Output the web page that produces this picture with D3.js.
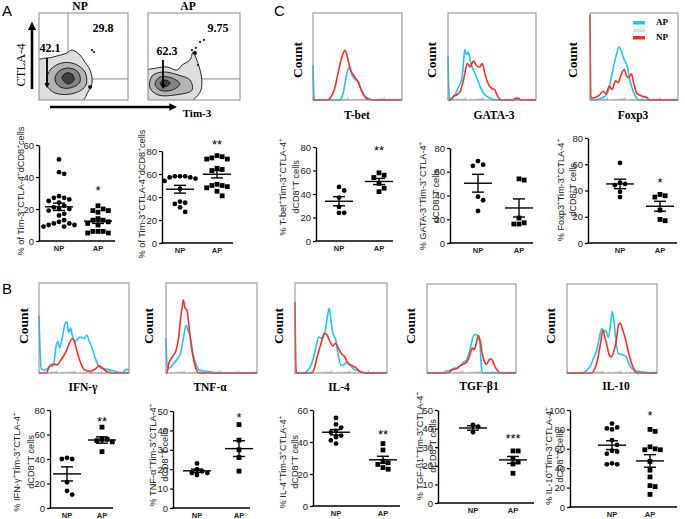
<!DOCTYPE html>
<html>
<head>
<meta charset="utf-8">
<script src="https://cdnjs.cloudflare.com/ajax/libs/d3/7.8.5/d3.min.js"></script>
<style>
  body { margin: 0; background: #fff; }
  svg { display: block; }
</style>
</head>
<body>
<svg id="fig" width="685" height="519"></svg>
<script>
// ---- data ----
const groups = ["NP", "AP"];

// % of Tim-3+CTLA-4+ dCD8+ cells (panel A, two cohorts)
const tim3NP  = [51, 43, 42, 28, 27, 27, 26, 25, 24, 22, 21, 20, 20, 19, 17, 16, 13, 12, 11, 11, 10, 10, 9, 9];
const tim3AP  = [22, 20, 19, 19, 18, 14, 13, 13, 12, 11, 10, 6, 6, 6, 5, 5];
const tim3bNP = [58, 58, 58, 57, 57, 56, 54, 47, 36, 35, 34, 31, 27];
const tim3bAP = [76, 75, 74, 73, 73, 65, 64, 63, 51, 50, 50, 49, 48, 45, 41];

// transcription factors (panel C)
const tbetNP  = [46, 43, 37, 29, 24, 24];
const tbetAP  = [58, 56, 54, 49, 45, 42];
const gataNP  = [69, 66, 65, 39, 36, 27];
const gataAP  = [54, 53, 21, 17, 16, 16];
const foxp3NP = [61, 46, 45, 44, 39, 35];
const foxp3AP = [37, 36, 35, 25, 18, 17];

// cytokines (panel B)
const ifngNP = [41, 40, 40, 21, 14, 11];
const ifngAP = [66, 56, 56, 55, 54, 46];
const tnfaNP = [23, 20, 19, 18, 18, 17];
const tnfaAP = [43, 35, 30, 26, 19];
const il4NP  = [55, 51, 49, 47, 46, 44, 43, 41, 39];
const il4AP  = [39, 35, 28, 27, 26, 24, 23];
const tgfNP  = [42, 41, 38];
const tgfAP  = [28, 28, 24, 22, 21, 16];
const il10NP = [86, 82, 81, 80, 69, 64, 58, 57, 55, 45, 44, 44];
const il10AP = [80, 78, 62, 60, 59, 59, 47, 38, 31, 22, 21, 13];

// histograms: [log decade, % of max count]
const tbetHistAP = [[0,40],[0.05,5],[0.1,0],[1.5,0],[1.7,8],[1.85,25],[1.95,35],[2.05,37],[2.2,28],[2.35,24],[2.55,21],[2.7,12],[2.9,5],[3.2,1],[3.4,0],[5,0]];
const tbetHistNP = [[0,0],[0.8,0],[1.0,3],[1.2,12],[1.4,30],[1.6,48],[1.8,57],[1.95,48],[2.1,35],[2.3,28],[2.5,22],[2.7,12],[2.9,4],[3.1,1],[3.3,0],[5,0]];
const gataHistAP = [[0,50],[0.05,10],[0.12,0],[0.2,2],[0.45,8],[0.6,15],[0.75,22],[0.85,35],[0.95,58],[1.05,52],[1.15,55],[1.3,42],[1.5,32],[1.7,22],[1.9,12],[2.1,6],[2.4,2],[2.7,0],[5,0]];
const gataHistNP = [[0,0],[0.15,0],[0.3,4],[0.5,6],[0.7,10],[0.9,25],[1.1,42],[1.25,38],[1.45,45],[1.6,40],[1.8,38],[1.95,42],[2.1,30],[2.3,18],[2.5,13],[2.65,12],[2.8,5],[3.0,0],[3.7,0],[3.85,2],[4.0,2],[4.15,0],[5,0]];
const foxp3HistAP = [[0,0],[0.3,0],[0.6,2],[0.9,5],[1.1,15],[1.3,35],[1.5,52],[1.65,61],[1.8,55],[1.95,46],[2.1,40],[2.25,25],[2.45,10],[2.6,4],[2.75,0],[5,0]];
const foxp3HistNP = [[0,98],[0.04,5],[0.1,2],[0.5,5],[0.75,10],[0.9,7],[1.1,16],[1.25,12],[1.45,22],[1.6,20],[1.75,28],[1.95,35],[2.1,27],[2.2,26],[2.35,30],[2.5,18],[2.65,8],[2.8,6],[3.0,4],[3.2,3],[3.4,0],[5,0]];
const ifngHistAP = [[0,64],[0.05,30],[0.12,5],[0.3,3],[0.6,7],[0.8,8],[0.95,30],[1.05,35],[1.15,28],[1.3,40],[1.45,55],[1.55,57],[1.65,45],[1.75,50],[1.85,42],[2.0,35],[2.15,38],[2.3,40],[2.5,38],[2.65,42],[2.8,35],[2.95,28],[3.1,18],[3.3,8],[3.5,5],[3.8,4],[4.2,2],[4.6,0],[4.85,4],[5,3]];
const ifngHistNP = [[0,0],[0.4,0],[0.6,8],[0.8,10],[1.0,9],[1.2,14],[1.4,20],[1.55,26],[1.7,34],[1.85,38],[1.95,36],[2.1,25],[2.3,12],[2.5,4],[2.8,2],[3.1,4],[3.35,8],[3.55,5],[3.8,1],[4.1,0],[5,0]];
const tnfaHistAP = [[0,39],[0.06,8],[0.15,5],[0.4,10],[0.6,15],[0.8,22],[0.95,38],[1.1,53],[1.2,48],[1.35,38],[1.5,20],[1.65,10],[1.85,3],[2.2,2],[2.5,1],[2.8,0],[5,0]];
const tnfaHistNP = [[0,0],[0.05,0],[0.15,10],[0.35,18],[0.55,25],[0.7,40],[0.8,60],[0.9,75],[0.95,81],[1.05,72],[1.15,70],[1.3,45],[1.45,22],[1.6,8],[1.8,0],[5,0]];
const il4HistAP = [[0,0],[0.5,0],[0.7,3],[0.9,10],[1.1,25],[1.3,40],[1.5,38],[1.65,48],[1.78,65],[1.86,72],[1.95,60],[2.05,45],[2.2,38],[2.35,20],[2.5,8],[2.65,9],[2.85,12],[3.0,9],[3.2,4],[3.5,2],[3.9,0],[5,0]];
const il4HistNP = [[0,79],[0.05,5],[0.1,0],[0.9,0],[1.05,5],[1.2,18],[1.4,32],[1.6,44],[1.75,42],[1.9,35],[2.05,30],[2.2,33],[2.35,28],[2.5,22],[2.7,18],[2.9,10],[3.1,8],[3.3,6],[3.5,2],[3.8,0],[5,0]];
const tgfHistAP = [[0,0],[1.0,0],[1.1,2],[1.3,3],[1.48,5],[1.7,6],[1.85,8],[2.05,12],[2.23,15],[2.4,25],[2.55,38],[2.65,43],[2.78,43],[2.88,40],[2.98,32],[3.05,8],[3.15,0],[5,0]];
const tgfHistNP = [[0,0],[1.2,0],[1.3,2],[1.5,4],[1.7,5],[1.85,8],[2.05,10],[2.23,12],[2.4,20],[2.55,28],[2.65,26],[2.75,32],[2.88,42],[3.0,35],[3.1,22],[3.25,12],[3.35,10],[3.5,15],[3.6,16],[3.72,12],[3.85,6],[4.0,2],[4.1,0],[5,0]];
const il10HistAP = [[0,0],[0.9,0],[1.1,3],[1.3,8],[1.5,18],[1.65,25],[1.8,40],[1.93,50],[2.05,46],[2.15,48],[2.3,40],[2.42,55],[2.52,69],[2.6,60],[2.7,40],[2.85,22],[3.0,21],[3.15,20],[3.3,18],[3.45,10],[3.6,5],[3.9,2],[4.3,1],[4.6,0],[5,0]];
const il10HistNP = [[0,0],[1.35,0],[1.55,5],[1.7,15],[1.85,32],[2.0,48],[2.1,40],[2.2,33],[2.35,20],[2.45,18],[2.6,24],[2.75,38],[2.85,53],[2.95,56],[3.1,48],[3.25,38],[3.4,25],[3.6,10],[3.75,3],[3.9,0],[5,0]];

// flow contour rings, [Tim-3 decade, CTLA-4 decade], outer to inner
const npRings = [
  [[-0.2,-0.2],[-0.2,2.18],[0.79,2.47],[1.57,2.70],[1.85,2.87],[2.30,2.59],[2.58,2.18],[2.87,1.72],[2.98,0.98],[2.75,0.46],[2.30,-0.2]],
  [[0.45,0.86],[0.62,1.72],[1.29,2.13],[2.02,2.07],[2.58,1.61],[2.64,0.86],[2.02,0.40],[0.9,0.40]],
  [[0.9,1.15],[1.07,1.61],[1.63,1.84],[2.19,1.61],[2.30,1.03],[1.74,0.69],[1.18,0.75]],
  [[1.29,1.26],[1.52,1.55],[1.85,1.49],[1.97,1.15],[1.63,0.92]]
];
const apRings = [
  [[-0.2,1.61],[0.49,1.84],[1.03,1.90],[1.58,1.72],[1.85,2.01],[2.28,2.30],[2.45,2.76],[2.61,2.41],[2.83,1.72],[2.93,1.03],[2.83,0.46],[2.12,-0.2],[-0.2,-0.2]],
  [[0.11,0.69],[0.22,1.38],[0.81,1.61],[1.63,1.44],[2.28,1.15],[2.39,0.57],[1.47,0.29],[0.55,0.29]],
  [[0.38,0.92],[0.65,1.32],[1.31,1.26],[1.73,0.92],[1.31,0.57],[0.65,0.57]],
  [[0.65,0.98],[0.92,1.15],[1.2,0.98],[0.92,0.75]]
];
const npEvents = [[2.98,2.87],[3.09,2.76],[2.87,0.75]];
const apEvents = [[2.83,3.33],[3.04,3.45],[2.55,2.70],[2.39,2.87],[2.72,2.01],[2.6,3.0]];
const npQuad = ["42.1", "29.8"];
const apQuad = ["62.3", "9.75"];

// ---- drawing ----
const svg = d3.select("#fig");
const serif = "'Liberation Serif', 'DejaVu Serif', serif";
const sans = "'Liberation Sans', Arial, sans-serif";
const apColor = "#22c3f3", npColor = "#ff2a2a";

const defs = svg.append("defs");
defs.append("marker").attr("id", "ah")
    .attr("viewBox", "0 0 10 10").attr("refX", 6).attr("refY", 5)
    .attr("markerWidth", 3.2).attr("markerHeight", 3.2).attr("orient", "auto")
  .append("path").attr("d", "M0,0L10,5L0,10z").attr("fill", "#000");

function richText(sel, str, sup) {
    const parts = str.split("^");
    sel.append("tspan").text(parts[0]);
    parts.slice(1).forEach(function(s) {
        sel.append("tspan").attr("dy", -3.5).style("font-size", sup + "px").text(s[0]);
        if (s.length > 1) sel.append("tspan").attr("dy", 3.5).text(s.slice(1));
    });
}

function panelLetter(t, x, y) {
    svg.append("text").attr("x", x).attr("y", y)
        .style("font", "15px " + sans).text(t);
}

function flow(p) {
    const g = svg.append("g");
    const x = d3.scaleLinear().domain([0, 5]).range([p.x0, p.x1]);
    const y = d3.scaleLinear().domain([0, 5]).range([p.y1, p.y0]);
    const clipId = "clip" + p.id;
    defs.append("clipPath").attr("id", clipId).append("rect")
        .attr("x", p.x0).attr("y", p.y0).attr("width", p.x1 - p.x0).attr("height", p.y1 - p.y0);

    g.append("rect").attr("x", p.x0).attr("y", p.y0)
        .attr("width", p.x1 - p.x0).attr("height", p.y1 - p.y0)
        .attr("fill", "#fff");
    const q = g.append("g").attr("stroke", "#8a8a8a").attr("stroke-width", 1);
    q.append("line").attr("x1", x(0)).attr("x2", x(5)).attr("y1", y(p.qy)).attr("y2", y(p.qy));
    if (p.qx != null)
        q.append("line").attr("x1", x(p.qx)).attr("x2", x(p.qx)).attr("y1", y(0)).attr("y2", y(5));

    const ring = d3.line().x(d => x(d[0])).y(d => y(d[1])).curve(d3.curveCatmullRomClosed.alpha(0.5));
    const fills = ["#dedede", "#b4b4b4", "#838383", "#404040"];
    g.append("g").attr("clip-path", "url(#" + clipId + ")")
      .selectAll("path").data(p.rings).join("path")
        .attr("d", ring)
        .attr("fill", (d, i) => fills[i])
        .attr("stroke", "#111").attr("stroke-width", 0.9);
    g.selectAll("circle.ev").data(p.events).join("circle")
        .attr("cx", d => x(d[0])).attr("cy", d => y(d[1]))
        .attr("r", (d, i) => i === 2 ? 2 : 1.1).attr("fill", "#111");

    g.append("rect").attr("x", p.x0).attr("y", p.y0)
        .attr("width", p.x1 - p.x0).attr("height", p.y1 - p.y0)
        .attr("fill", "none").attr("stroke", "#8a8a8a").attr("stroke-width", 1);

    g.append("text").attr("x", p.titleX).attr("y", 10).attr("text-anchor", "middle")
        .style("font", "bold 11.5px " + serif).text(p.title);
    g.append("text").attr("x", p.llX).attr("y", p.llY).attr("text-anchor", "middle")
        .style("font", "bold 12px " + serif).text(p.quad[0]);
    g.append("text").attr("x", p.urX).attr("y", p.urY).attr("text-anchor", "middle")
        .style("font", "bold 12px " + serif).text(p.quad[1]);
    g.append("line").attr("x1", p.arrowX).attr("x2", p.arrowX)
        .attr("y1", p.arrowY0).attr("y2", p.arrowY1)
        .attr("stroke", "#000").attr("stroke-width", 1.8).attr("marker-end", "url(#ah)");
}

function histogram(p) {
    const g = svg.append("g");
    const x = d3.scaleLinear().domain([0, 5]).range([p.x0, p.x1]);
    const y = d3.scaleLinear().domain([0, 100]).range([p.y1, p.y0]);
    const minor = [];
    for (let k = 0; k < 5; k++) for (let m = 1; m < 10; m++) minor.push(k + Math.log10(m));
    g.selectAll("line.tk").data(minor).join("line")
        .attr("x1", d => x(d)).attr("x2", d => x(d))
        .attr("y1", p.y1).attr("y2", d => p.y1 - (Number.isInteger(d) ? 3 : 1.5))
        .attr("stroke", "#9a9a9a").attr("stroke-width", 0.6);
    const line = d3.line().x(d => x(d[0])).y(d => y(d[1])).curve(d3.curveMonotoneX);
    g.append("path").datum(p.ap).attr("d", line)
        .attr("fill", "none").attr("stroke", apColor).attr("stroke-width", 1.6);
    g.append("path").datum(p.np).attr("d", line)
        .attr("fill", "none").attr("stroke", npColor).attr("stroke-width", 1.6);
    g.append("rect").attr("x", p.x0).attr("y", p.y0)
        .attr("width", p.x1 - p.x0).attr("height", p.y1 - p.y0)
        .attr("fill", "none").attr("stroke", "#8a8a8a").attr("stroke-width", 1);
    g.append("text").attr("transform", "translate(" + p.countX + "," + p.countY + ") rotate(-90)")
        .attr("text-anchor", "middle").style("font", "bold 13.5px " + serif).text("Count");
    g.append("text").attr("x", p.labelX).attr("y", p.labelY).attr("text-anchor", "middle")
        .style("font", "bold 11.5px " + serif).text(p.label);
    if (p.legend) {
        const lg = g.append("g");
        const items = [["AP", apColor, 21], ["", "#cfe8cf", 28.5], ["NP", npColor, 36]];
        items.forEach(function(it) {
            lg.append("rect").attr("x", 633).attr("y", it[2]).attr("width", 12).attr("height", 3.5).attr("fill", it[1]);
            if (it[0]) lg.append("text").attr("x", 656).attr("y", it[2] + 4)
                .style("font", "bold 9px " + serif).text(it[0]);
        });
    }
}

function swarm(values, cx, y, r) {
    const placed = [];
    return values.slice().sort((a, b) => b - a).map(function(v) {
        const py = y(v);
        let k = 0, px;
        for (;;) {
            const off = k === 0 ? 0 : Math.ceil(k / 2) * (k % 2 ? 1 : -1) * r * 2.15;
            px = cx + off;
            if (placed.every(q => Math.hypot(q[0] - px, q[1] - py) >= r * 2.1)) break;
            k++;
        }
        placed.push([px, py]);
        return [px, py];
    });
}

function scatter(p) {
    const g = svg.append("g");
    const y = d3.scaleLinear().domain([0, p.max]).range([p.yBottom, p.yTop]);
    const x = d3.scalePoint().domain(groups).range([p.npX, p.apX]);

    const ax = g.append("g").attr("transform", "translate(" + p.axisX + ",0)")
        .call(d3.axisLeft(y).tickValues(p.ticks).tickSize(3).tickSizeOuter(0).tickPadding(2));
    ax.select(".domain").attr("stroke-width", 1.4);
    ax.selectAll(".tick line").attr("stroke-width", 1.2);
    ax.selectAll("text").style("font", "9.5px " + sans).attr("fill", "#222");

    g.append("line").attr("x1", p.axisX - 0.7).attr("x2", p.axisRight)
        .attr("y1", y(0)).attr("y2", y(0)).attr("stroke", "#000").attr("stroke-width", 1.6);
    g.selectAll("text.cat").data(groups).join("text")
        .attr("x", d => x(d)).attr("y", y(0) + 10).attr("text-anchor", "middle")
        .style("font", "bold 7.5px " + sans).attr("fill", "#222").text(d => d);

    const r = 2.4;
    g.selectAll("circle.pt").data(swarm(p.np, x("NP"), y, r)).join("circle")
        .attr("cx", d => d[0]).attr("cy", d => d[1]).attr("r", r).attr("fill", "#000");
    g.selectAll("rect.pt").data(swarm(p.ap, x("AP"), y, r)).join("rect")
        .attr("x", d => d[0] - r).attr("y", d => d[1] - r)
        .attr("width", 2 * r).attr("height", 2 * r).attr("fill", "#000");

    [["NP", p.np], ["AP", p.ap]].forEach(function(gr) {
        const vals = gr[1], cx = x(gr[0]);
        const m = d3.mean(vals), se = d3.deviation(vals) / Math.sqrt(vals.length);
        const s = g.append("g").attr("stroke", "#000").attr("stroke-width", 1.4);
        s.append("line").attr("x1", cx - 14).attr("x2", cx + 14).attr("y1", y(m)).attr("y2", y(m));
        s.append("line").attr("x1", cx).attr("x2", cx).attr("y1", y(m - se)).attr("y2", y(m + se));
        s.append("line").attr("x1", cx - 6).attr("x2", cx + 6).attr("y1", y(m - se)).attr("y2", y(m - se));
        s.append("line").attr("x1", cx - 6).attr("x2", cx + 6).attr("y1", y(m + se)).attr("y2", y(m + se));
    });

    if (p.sig) g.append("text").attr("x", x("AP")).attr("y", y(p.sigAt) + 7)
        .attr("text-anchor", "middle").style("font", "13px " + sans).text(p.sig);

    p.title.forEach(function(t, i) {
        const tx = g.append("text")
            .attr("transform", "translate(" + p.titleX[i] + "," + p.titleY + ") rotate(-90)")
            .attr("text-anchor", "middle").style("font", "9.2px " + sans).attr("fill", "#222");
        richText(tx, t, 6.5);
    });
}

// ---- panel A ----
panelLetter("A", 2, 16);
flow({id: "np", x0: 39, x1: 128, y0: 13, y1: 100, rings: npRings, events: npEvents,
      qx: 1.63, qy: 1.21, title: "NP", titleX: 80, quad: npQuad,
      llX: 50, llY: 52, urX: 103, urY: 32, arrowX: 47, arrowY0: 58, arrowY1: 86});
flow({id: "ap", x0: 148, x1: 240, y0: 13, y1: 100, rings: apRings, events: apEvents,
      qx: null, qy: 1.21, title: "AP", titleX: 188, quad: apQuad,
      llX: 167, llY: 55, urX: 218, urY: 32, arrowX: 163, arrowY0: 60, arrowY1: 87});
svg.append("line").attr("x1", 32).attr("x2", 32).attr("y1", 89).attr("y2", 25)
    .attr("stroke", "#000").attr("stroke-width", 2.6).attr("marker-end", "url(#ah)");
svg.append("text").attr("transform", "translate(25,65) rotate(-90)").attr("text-anchor", "middle")
    .style("font", "12.5px " + serif).text("CTLA-4");
svg.append("line").attr("x1", 50).attr("x2", 174).attr("y1", 107).attr("y2", 107)
    .attr("stroke", "#000").attr("stroke-width", 2.4).attr("marker-end", "url(#ah)");
svg.append("text").attr("x", 197).attr("y", 117).attr("text-anchor", "middle")
    .style("font", "bold 11px " + serif).text("Tim-3");

const aTitle = ["% of Tim-3^+CTLA-4^+dCD8^+cells"];
scatter({np: tim3NP, ap: tim3AP, max: 60, ticks: [0, 20, 40, 60], axisX: 39, axisRight: 115,
         yBottom: 241, yTop: 145, npX: 59, apX: 98, title: aTitle, titleX: [24], titleY: 191,
         sig: "*", sigAt: 33});
scatter({np: tim3bNP, ap: tim3bAP, max: 80, ticks: [0, 20, 40, 60, 80], axisX: 162, axisRight: 233,
         yBottom: 243, yTop: 151, npX: 180, apX: 217, title: aTitle, titleX: [145], titleY: 194,
         sig: "**", sigAt: 88});

// ---- panel C ----
panelLetter("C", 274, 16);
histogram({ap: tbetHistAP, np: tbetHistNP, x0: 313, x1: 402, y0: 13, y1: 100,
           label: "T-bet", labelX: 357, labelY: 119, countX: 302, countY: 60});
histogram({ap: gataHistAP, np: gataHistNP, x0: 448, x1: 536, y0: 13, y1: 100,
           label: "GATA-3", labelX: 494, labelY: 119, countX: 436, countY: 60});
histogram({ap: foxp3HistAP, np: foxp3HistNP, x0: 590, x1: 678, y0: 13, y1: 100,
           label: "Foxp3", labelX: 633, labelY: 119, countX: 577, countY: 60, legend: true});

scatter({np: tbetNP, ap: tbetAP, max: 80, ticks: [0, 20, 40, 60, 80], axisX: 316, axisRight: 393,
         yBottom: 241, yTop: 147, npX: 339, apX: 379,
         title: ["% T-bet^+Tim-3^+CTLA-4^+", "dCD8^+T cells"], titleX: [286, 299], titleY: 187,
         sig: "**", sigAt: 79});
scatter({np: gataNP, ap: gataAP, max: 80, ticks: [0, 20, 40, 60, 80], axisX: 450, axisRight: 533,
         yBottom: 243, yTop: 148, npX: 478, apX: 519,
         title: ["% GATA-3^+Tim-3^+CTLA-4^+", "dCD8^+T cells"], titleX: [426, 439], titleY: 196});
scatter({np: foxp3NP, ap: foxp3AP, max: 80, ticks: [0, 20, 40, 60, 80], axisX: 588, axisRight: 677,
         yBottom: 243, yTop: 138, npX: 620, apX: 660,
         title: ["% Foxp3^+Tim-3^+CTLA-4^+", "dCD8^+T cells"], titleX: [564, 576], titleY: 190,
         sig: "*", sigAt: 48});

// ---- panel B ----
panelLetter("B", 2, 294);
histogram({ap: ifngHistAP, np: ifngHistNP, x0: 39, x1: 129, y0: 283, y1: 373,
           label: "IFN-γ", labelX: 83, labelY: 391, countX: 28, countY: 326});
histogram({ap: tnfaHistAP, np: tnfaHistNP, x0: 166, x1: 257, y0: 283, y1: 373,
           label: "TNF-α", labelX: 210, labelY: 391, countX: 153, countY: 326});
histogram({ap: il4HistAP, np: il4HistNP, x0: 295, x1: 387, y0: 283, y1: 373,
           label: "IL-4", labelX: 339, labelY: 391, countX: 283, countY: 326});
histogram({ap: tgfHistAP, np: tgfHistNP, x0: 427, x1: 516, y0: 284, y1: 373,
           label: "TGF-β1", labelX: 479, labelY: 390, countX: 415, countY: 326});
histogram({ap: il10HistAP, np: il10HistNP, x0: 567, x1: 657, y0: 284, y1: 373,
           label: "IL-10", labelX: 616, labelY: 390, countX: 555, countY: 326});

scatter({np: ifngNP, ap: ifngAP, max: 80, ticks: [0, 20, 40, 60, 80], axisX: 50, axisRight: 113,
         yBottom: 508, yTop: 410, npX: 67, apX: 102,
         title: ["% IFN-γ^+Tim-3^+CTLA-4^+", "dCD8^+T cells"], titleX: [20, 34], titleY: 462,
         sig: "**", sigAt: 73});
scatter({np: tnfaNP, ap: tnfaAP, max: 50, ticks: [0, 10, 20, 30, 40, 50], axisX: 173, axisRight: 250,
         yBottom: 508, yTop: 411, npX: 197, apX: 239,
         title: ["% TNF-α^+Tim-3^+CTLA-4^+", "dCD8^+T cells"], titleX: [156, 168], titleY: 455,
         sig: "*", sigAt: 48});
scatter({np: il4NP, ap: il4AP, max: 60, ticks: [0, 20, 40, 60], axisX: 313, axisRight: 400,
         yBottom: 506, yTop: 410, npX: 336, apX: 383,
         title: ["% IL-4^+Tim-3^+CTLA-4^+", "dCD8^+T cells"], titleX: [286, 298], titleY: 462,
         sig: "**", sigAt: 46});
scatter({np: tgfNP, ap: tgfAP, max: 50, ticks: [0, 10, 20, 30, 40, 50], axisX: 438, axisRight: 534,
         yBottom: 503, yTop: 410, npX: 473, apX: 513,
         title: ["% TGF-β1^+Tim-3^+CTLA-4^+", "dCD8^+T cells"], titleX: [423, 436], titleY: 446,
         sig: "***", sigAt: 36});
scatter({np: il10NP, ap: il10AP, max: 100, ticks: [0, 20, 40, 60, 80, 100], axisX: 570, axisRight: 677,
         yBottom: 507, yTop: 410, npX: 612, apX: 650,
         title: ["% IL-10^+Tim-3^+CTLA-4^+", "dCD8^+T cells"], titleX: [552, 563], titleY: 456,
         sig: "*", sigAt: 97});
</script>
</body>
</html>
